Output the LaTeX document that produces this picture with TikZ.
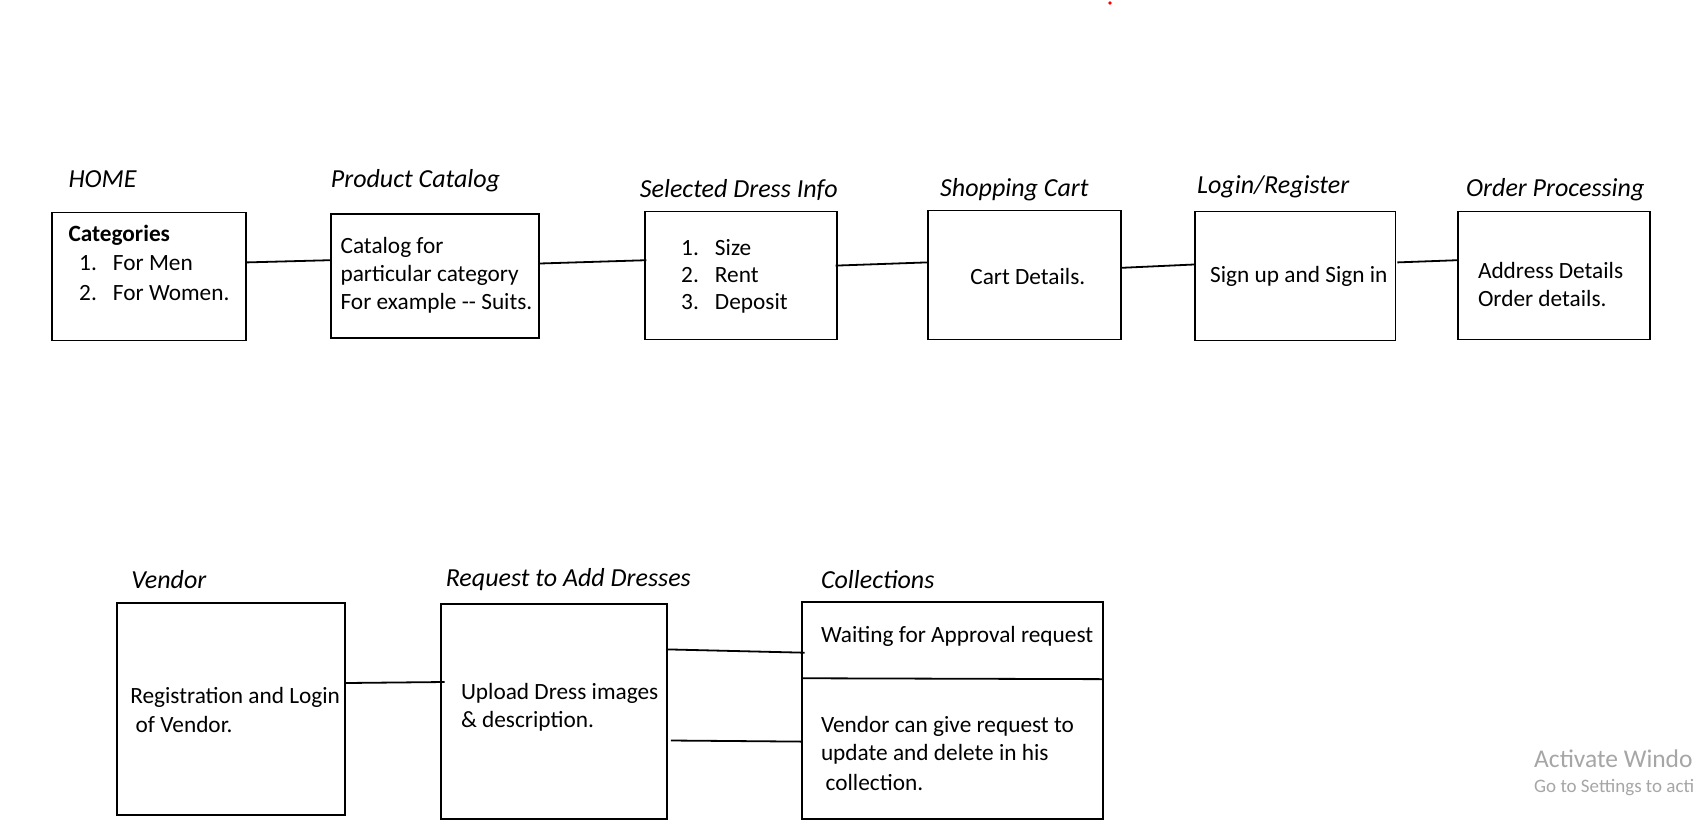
\documentclass[tikz,border=0pt]{standalone}
\usepackage{fontspec}
\setmainfont{Carlito}
\usetikzlibrary{calc}
\tikzset{
  box/.style n args={2}{draw=black, line width=1.8pt, inner sep=0pt, minimum width=#1pt, minimum height=#2pt},
  title/.style={anchor=west, inner sep=0pt, font=\fontsize{26}{30}\selectfont\itshape},
  txt/.style={anchor=west, inner sep=0pt, font=\fontsize{23.3}{28}\selectfont},
  conn/.style={draw=black, line width=1.8pt},
  wm/.style={anchor=west, inner sep=0pt, text=black!35}
}
\newcommand{\numitem}[2]{\makebox[33.8pt][l]{#1}#2}
\begin{document}
\begin{tikzpicture}[x=1pt,y=-1pt]
\useasboundingbox (0,0) rectangle (1700,839);
\fill[white] (0,0) rectangle (1700,839);
\fill[red] (1110,3) circle (1.8);

% top row boxes
\node[box={194}{128}] (home) at (149,276.5) {};
\node[box={208}{124.7}] (catalog) at (434.75,276) {};
\node[box={192}{128}] (dress) at (741,275.4) {};
\node[box={193}{129}] (cart) at (1024.5,274.9) {};
\node[box={200.6}{129}] (login) at (1295.1,275.9) {};
\node[box={192}{128}] (order) at (1554.25,275.4) {};

% titles
\node[title] (thome) at (68.3,178.9) {HOME};
\node[title] (tcat) at (330.7,181) {Product Catalog};
\node[title] (tdress) at (639.7,189.7) {Selected Dress Info};
\node[title] (tcart) at (940,189.7) {Shopping Cart};
\node[title] (tlogin) at (1197,186.5) {Login/Register};
\node[title] (torder) at (1466,189.7) {Order Processing};

% texts
\node[txt, font=\fontsize{23.3}{28}\selectfont\bfseries] (h0) at (68.3,235) {Categories};
\node[txt] (h1) at (79,263.5) {\numitem{1.}{For Men}};
\node[txt] (h2) at (79,292.7) {\numitem{2.}{For Women.}};

\node[txt] (p1) at (340.4,247.2) {Catalog for};
\node[txt] (p2) at (340.4,275.4) {particular category};
\node[txt] (p3) at (340.4,303.6) {For example -{}- Suits.};

\node[txt] (d1) at (681,247.2) {\numitem{1.}{Size}};
\node[txt] (d2) at (681,275.4) {\numitem{2.}{Rent}};
\node[txt] (d3) at (681,303.6) {\numitem{3.}{Deposit}};

\node[txt, anchor=center] (ct) at (1027.8,276.5) {Cart Details.};
\node[txt] (lt) at (1210,276.5) {Sign up and Sign in};
\node[txt] (o1) at (1477.8,270) {Address Details};
\node[txt] (o2) at (1477.8,298.2) {Order details.};

% top connectors
\draw[conn] ($(home.east)+(0,-14.1)$) -- ($(catalog.west)+(0,-15.8)$);
\draw[conn] ($(catalog.east)+(0,-12.5)$) -- ($(dress.west)+(2.3,-15.2)$);
\draw[conn] ($(dress.east)+(-2.2,-9.8)$) -- ($(cart.west)+(0,-12.5)$);
\draw[conn] ($(cart.east)+(0,-7.1)$) -- ($(login.west)+(0,-11.4)$);
\draw[conn] ($(login.east)+(1,-13.5)$) -- ($(order.west)+(0,-15.2)$);

% bottom row
\node[box={227.8}{212.5}] (vendor) at (230.9,709) {};
\node[box={225.5}{214.7}] (request) at (554,711.25) {};
\node[box={300.3}{217}] (coll) at (952.45,710.15) {};
\draw[conn] ($(coll.west)+(0,-31.9)$) -- ($(coll.east)+(0,-31)$);

\node[title] (tvendor) at (131.2,580) {Vendor};
\node[title] (treq) at (445.6,580) {Request to Add Dresses};
\node[title] (tcoll) at (820.8,580) {Collections};

\node[txt] (v1) at (130.1,697.1) {Registration and Login};
\node[txt] (v2) at (135.5,724.2) {of Vendor.};
\node[txt] (r1) at (460.8,693.9) {Upload Dress images};
\node[txt] (r2) at (460.8,721) {\& description.};
\node[txt] (k1) at (820.8,636.4) {Waiting for Approval request};
\node[txt] (k2) at (820.8,726.4) {Vendor can give request to};
\node[txt] (k3) at (820.8,754.6) {update and delete in his};
\node[txt] (k4) at (825.5,782.8) {collection.};

\draw[conn] ($(vendor.east)+(0,-26)$) -- ($(request.west)+(4.3,-29.25)$);
\draw[conn] ($(request.east)+(0,-61.85)$) -- ($(coll.west)+(3.3,-57.45)$);
\draw[conn] ($(request.east)+(3.2,29.25)$) -- ($(coll.west)+(0,31.45)$);

% watermark (as visible, cut by the screen edge)
\node[wm, font=\fontsize{25.5}{28}\selectfont] (wm1) at (1534,759) {Activate Windo};
\node[wm, font=\fontsize{19}{22}\selectfont] (wm2) at (1534,788) {Go to Settings to acti};
\end{tikzpicture}
\end{document}
